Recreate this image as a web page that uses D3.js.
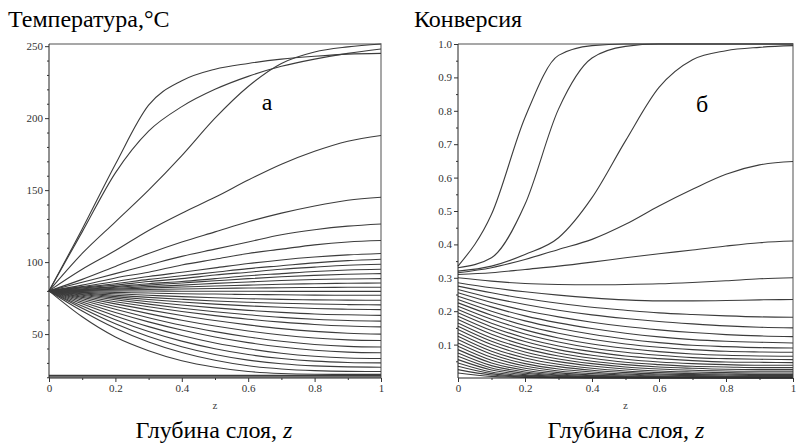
<!DOCTYPE html>
<html><head><meta charset="utf-8">
<script src="https://cdn.jsdelivr.net/npm/d3@7/dist/d3.min.js"></script>
<style>
body{margin:0;background:#fff}
svg{display:block}
svg text{font-family:"Liberation Serif","DejaVu Serif",serif !important;}
</style>
</head><body><svg id="c" width="799" height="443"></svg>
<script>
// ---- data ----
const zValues = [0, 0.1, 0.2, 0.3, 0.4, 0.5, 0.6, 0.7, 0.8, 0.9, 1.0];

const tempSeries = [
  [80,123,168,209,226,234,238,241,243,244.5,245],
  [80,121,162,191,208,220,229,236,241,245,248],
  [80,106,128,150,174,200,222,238,246,249.5,251.5],
  [80,95,108,122,134,145,157,168,177,184,188],
  [80,88,97,106,114,121,128,134,139,143,145],
  [80,86,92,98,104,109,114,119,122.5,125,126.5],
  [80,84,89,93,98,102,106,109,112,114,115],
  [80,83,86.5,90,93,96,99,101.5,103.5,105,106],
  [80,82.5,85,88,90.5,93,95.5,97.5,99.5,101,102],
  [80,82,84,86.5,88.5,91,93,95,96.5,97.8,98.5],
  [80,81.5,83,85,86.5,88.5,90.5,92,93.5,94.5,95],
  [80,81,82.5,84,85.5,87,88.5,89.8,90.8,91.6,92],
  [80,80.8,81.8,83,84,85.2,86.2,87.2,87.9,88.3,88.5],
  [80,80.5,81.2,82,82.7,83.4,84,84.6,85,85.3,85.5],
  [80,80.3,80.6,81,81.3,81.7,82,82.2,82.4,82.5,82.5],
  [80,80,79.9,79.9,79.8,79.8,79.8,79.7,79.7,79.7,79.7],
  [80,79.5,79,78.5,78,77.8,77.5,77.3,77.1,77,77],
  [80,79,78,77,76,75.2,74.6,74.1,73.8,73.6,73.5],
  [80,78.5,77,75.5,74.2,73,72.1,71.4,70.9,70.5,70.3],
  [80,78,76,74,72.3,70.8,69.6,68.6,67.8,67.3,67],
  [80,77.5,75,72.5,70.2,68.2,66.5,65.1,64,63.4,63],
  [80,77,73.8,70.8,68,65.5,63.4,61.6,60.3,59.4,59],
  [80,76.3,72.5,69,65.7,62.8,60.3,58.3,56.7,55.6,55],
  [80,75.5,71,66.8,62.9,59.4,56.4,53.8,51.9,50.6,50],
  [80,74.5,69.2,64.2,59.6,55.6,52.2,49.4,47.3,46,45.5],
  [80,73.5,67.2,61.4,56.1,51.7,48,45,42.8,41.5,41],
  [80,72.3,65,58.5,52.8,48,44.1,41,38.8,37.5,37],
  [80,71,62.6,55.2,49,43.8,39.8,36.7,34.6,33.4,33],
  [80,69.5,60,51.8,45.1,39.8,35.8,33,31.2,30.3,30],
  [80,68,57.2,48.3,41.2,35.8,31.9,29.4,27.9,27.2,27],
  [80,66,54,44.5,37.2,31.8,28,25.8,24.6,24.1,24],
  [80,62,48,38.5,31.5,27,24,22.6,22.1,22,22],
  [21.3,21.3,21.3,21.3,21.3,21.3,21.3,21.3,21.3,21.3,21.3],
  [20.3,20.3,20.3,20.3,20.3,20.3,20.3,20.3,20.3,20.3,20.3]
];

const convSeries = [
  [0.335,0.49,0.78,0.966,0.995,1,1,1,1,1,1],
  [0.33,0.36,0.52,0.805,0.958,0.993,1,1,1,1,1],
  [0.32,0.335,0.37,0.42,0.54,0.71,0.87,0.953,0.98,0.99,0.995],
  [0.315,0.33,0.355,0.385,0.415,0.46,0.515,0.565,0.61,0.638,0.648],
  [0.31,0.315,0.325,0.335,0.347,0.36,0.372,0.383,0.395,0.405,0.41],
  [0.3,0.29,0.283,0.28,0.279,0.28,0.282,0.286,0.291,0.297,0.3],
  [0.285,0.27,0.258,0.248,0.24,0.234,0.231,0.231,0.232,0.234,0.235],
  [0.275,0.255,0.238,0.224,0.212,0.203,0.195,0.19,0.186,0.183,0.182],
  [0.265,0.24,0.22,0.203,0.189,0.178,0.169,0.162,0.156,0.152,0.15],
  [0.255,0.226,0.202,0.183,0.167,0.154,0.144,0.136,0.13,0.126,0.124],
  [0.245,0.213,0.186,0.165,0.148,0.134,0.123,0.115,0.11,0.107,0.105],
  [0.235,0.2,0.171,0.149,0.131,0.117,0.106,0.098,0.094,0.091,0.09],
  [0.225,0.188,0.157,0.134,0.116,0.102,0.092,0.085,0.08,0.078,0.077],
  [0.215,0.176,0.144,0.12,0.102,0.089,0.079,0.072,0.068,0.066,0.065],
  [0.205,0.164,0.132,0.108,0.09,0.077,0.068,0.061,0.058,0.056,0.055],
  [0.195,0.153,0.12,0.096,0.079,0.066,0.058,0.052,0.048,0.047,0.046],
  [0.185,0.142,0.109,0.085,0.068,0.056,0.048,0.043,0.04,0.038,0.038],
  [0.175,0.131,0.098,0.075,0.059,0.047,0.04,0.035,0.033,0.031,0.031],
  [0.165,0.12,0.088,0.066,0.05,0.04,0.033,0.029,0.026,0.025,0.025],
  [0.155,0.11,0.078,0.057,0.043,0.033,0.027,0.023,0.021,0.02,0.02],
  [0.145,0.1,0.069,0.049,0.036,0.027,0.021,0.018,0.016,0.015,0.015],
  [0.135,0.09,0.06,0.041,0.029,0.021,0.016,0.013,0.012,0.011,0.011],
  [0.125,0.08,0.051,0.034,0.023,0.016,0.012,0.01,0.009,0.008,0.008],
  [0.115,0.071,0.043,0.027,0.018,0.012,0.009,0.007,0.006,0.005,0.005],
  [0.105,0.062,0.036,0.021,0.013,0.009,0.006,0.005,0.004,0.004,0.004],
  [0.095,0.053,0.029,0.016,0.009,0.006,0.004,0.003,0.003,0.003,0.003],
  [0.085,0.045,0.023,0.012,0.007,0.004,0.003,0.002,0.002,0.002,0.002],
  [0.075,0.037,0.018,0.009,0.005,0.003,0.002,0.002,0.001,0.001,0.001],
  [0.065,0.03,0.014,0.007,0.004,0.002,0.001,0.001,0.001,0.001,0.001],
  [0.055,0.024,0.01,0.005,0.002,0.001,0.001,0.001,0.001,0.001,0.001],
  [0.045,0.018,0.007,0.003,0.001,0.001,0.001,0.001,0.001,0.001,0.001],
  [0.035,0.013,0.005,0.002,0.001,0.001,0.001,0.001,0.001,0.001,0.001],
  [0.025,0.009,0.003,0.001,0.001,0.001,0.001,0.001,0.001,0.001,0.001],
  [0.015,0.005,0.002,0.001,0.001,0.001,0.001,0.001,0.001,0.001,0.001]
];

const tempTicks = [50, 100, 150, 200, 250];
const tempMinorTicks = [20,30,40,60,70,80,90,110,120,130,140,160,170,180,190,210,220,230,240];
const convTicks = [0.1,0.2,0.3,0.4,0.5,0.6,0.7,0.8,0.9,1.0];
const convMinorTicks = [0.05,0.15,0.25,0.35,0.45,0.55,0.65,0.75,0.85,0.95];
const zTicks = [0, 0.2, 0.4, 0.6, 0.8, 1];
const zMinorTicks = [0.1, 0.3, 0.5, 0.7, 0.9];

const panelTitles = ["Температура,°C", "Конверсия"];
const panelLetters = ["а", "б"];
const axisName = "z";
const xTitle = "Глубина слоя, ";

// ---- drawing ----
const svg = d3.select("#c");
const serif = "Liberation Serif";

const panels = [
  {series: tempSeries, domain: [19.5, 251.5], x0: 49, x1: 381, ticks: tempTicks, minor: tempMinorTicks,
   fmt: d => String(d), titleX: 8, letterX: 267, letterY: 110, xTitleC: 214},
  {series: convSeries, domain: [0, 1], x0: 458, x1: 793, ticks: convTicks, minor: convMinorTicks,
   fmt: d => d.toFixed(1), titleX: 414, letterX: 702, letterY: 112, xTitleC: 626}
];
const yTop = 44, yBot = 378;

panels.forEach((p, i) => {
  const x = d3.scaleLinear().domain([0, 1]).range([p.x0, p.x1]);
  const y = d3.scaleLinear().domain(p.domain).range([yBot, yTop]);
  const g = svg.append("g");

  g.append("path")
    .attr("d", `M${p.x0},${yTop}H${p.x1}V${yBot}`)
    .attr("fill", "none").attr("stroke", "#8a8a8a").attr("stroke-width", 1.5);

  const line = d3.line().x((d, k) => x(zValues[k])).y(d => y(d)).curve(d3.curveMonotoneX);
  g.append("g").selectAll("path").data(p.series).join("path")
    .attr("d", line)
    .attr("fill", "none").attr("stroke", "#3c3c3c").attr("stroke-width", 1.1);

  const ya = g.append("g").attr("transform", `translate(${p.x0},0)`)
    .call(d3.axisLeft(y).tickValues(p.ticks).tickFormat(p.fmt).tickSize(4).tickPadding(2));
  g.append("g").attr("transform", `translate(${p.x0},0)`)
    .call(d3.axisLeft(y).tickValues(p.minor).tickFormat("").tickSize(2))
    .select(".domain").remove();
  ya.select(".domain").attr("d", `M0,${yTop}V${yBot}`).attr("stroke", "#222");

  const xa = g.append("g").attr("transform", `translate(0,${yBot})`)
    .call(d3.axisBottom(x).tickValues(zTicks).tickFormat(d => String(d)).tickSize(4).tickPadding(2));
  g.append("g").attr("transform", `translate(0,${yBot})`)
    .call(d3.axisBottom(x).tickValues(zMinorTicks).tickFormat("").tickSize(2))
    .select(".domain").remove();
  xa.select(".domain").attr("d", `M${p.x0},0H${p.x1}`).attr("stroke", "#222");

  g.selectAll(".tick text").attr("font-family", serif).attr("font-size", 11).attr("fill", "#333");
  g.selectAll(".tick line").attr("stroke", "#333");

  g.append("text").attr("x", (p.x0 + p.x1) / 2).attr("y", 409).attr("text-anchor", "middle")
    .attr("font-family", serif).attr("font-size", 11).attr("fill", "#444").text(axisName);

  g.append("text").attr("x", p.titleX).attr("y", 27)
    .attr("font-family", serif).attr("font-size", 24).attr("fill", "#000").text(panelTitles[i]);

  g.append("text").attr("x", p.letterX).attr("y", p.letterY).attr("text-anchor", "middle")
    .attr("font-family", serif).attr("font-size", 24).attr("fill", "#000").text(panelLetters[i]);

  const t = g.append("text").attr("x", p.xTitleC).attr("y", 438).attr("text-anchor", "middle")
    .attr("font-family", serif).attr("font-size", 24).attr("fill", "#000");
  t.append("tspan").text(xTitle);
  t.append("tspan").attr("font-style", "italic").text(axisName);
});
</script>
</body></html>
